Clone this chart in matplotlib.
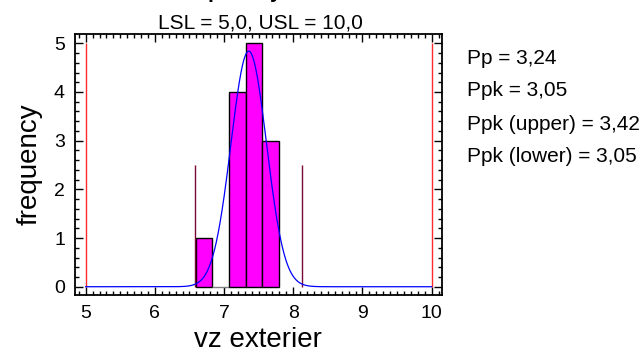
import numpy as np
import matplotlib
matplotlib.use("Agg")
import matplotlib.pyplot as plt
from matplotlib.ticker import MultipleLocator

plt.rcParams["font.family"] = ["Liberation Sans", "DejaVu Sans"]

# ── Daten ───────────────────────────────────────────────────
bin_edges = [6.59, 6.83, 7.07, 7.31, 7.55, 7.79]
counts    = [1, 0, 4, 5, 3]
lsl, usl  = 5.0, 10.0
mean      = 7.357
sigma     = 0.2572
n_obs     = 13
stats     = ["Pp = 3,24", "Ppk = 3,05", "Ppk (upper) = 3,42", "Ppk (lower) = 3,05"]

# ── Figur ───────────────────────────────────────────────────
fig = plt.figure(figsize=(6.41, 3.61), dpi=100)
ax = fig.add_axes([0.1165, 0.1828, 0.5725, 0.7222])

widths = np.diff(bin_edges)
edges  = ["#808080" if c == 0 else "black" for c in counts]
ax.bar(bin_edges[:-1], counts, width=widths, align="edge",
       color="#ff00ff", edgecolor=edges, linewidth=1.0, zorder=2)

# Spezifikationsgrenzen
ax.vlines([lsl, usl], 0, 5, color="#ff2a2a", linewidth=1.0, zorder=3)

# ±3 Sigma
ax.vlines([mean - 3 * sigma, mean + 3 * sigma], 0, 2.5,
          color="#7a0a35", linewidth=1.0, zorder=3)

# angepasste Normalverteilung
xs = np.linspace(lsl, usl, 600)
ys = n_obs * widths[0] / (sigma * np.sqrt(2 * np.pi)) * np.exp(-0.5 * ((xs - mean) / sigma) ** 2)
ax.plot(xs, ys, color="#0000ff", linewidth=0.9, zorder=4)

ax.set_xlim(4.841, 10.145)
ax.set_ylim(-0.17, 5.185)
ax.xaxis.set_major_locator(MultipleLocator(1))
ax.xaxis.set_minor_locator(MultipleLocator(0.1))
ax.yaxis.set_major_locator(MultipleLocator(1))
ax.yaxis.set_minor_locator(MultipleLocator(0.2))
ax.tick_params(which="both", direction="in", top=True, right=True,
               labelsize=14, width=1.0)
ax.tick_params(which="major", length=6, pad=7)
ax.tick_params(which="minor", length=3)
for s in ax.spines.values():
    s.set_linewidth(1.3)

ax.set_xlabel("vz exterier", fontsize=20, labelpad=4)
ax.set_ylabel("frequency", fontsize=20, labelpad=8)

fig.text(0.405, 1.0055, "Process Capability for vz exterior", ha="center",
         va="baseline", fontsize=15, fontweight="bold")
fig.text(0.406, 1 - 28.3 / 361, "LSL = 5,0, USL = 10,0", ha="center",
         va="baseline", fontsize=15)

for i, s in enumerate(stats):
    fig.text(0.7285, 1 - (63.5 + 33 * i) / 361, s, ha="left",
             va="baseline", fontsize=15)

fig.savefig("out.png", dpi=100)
